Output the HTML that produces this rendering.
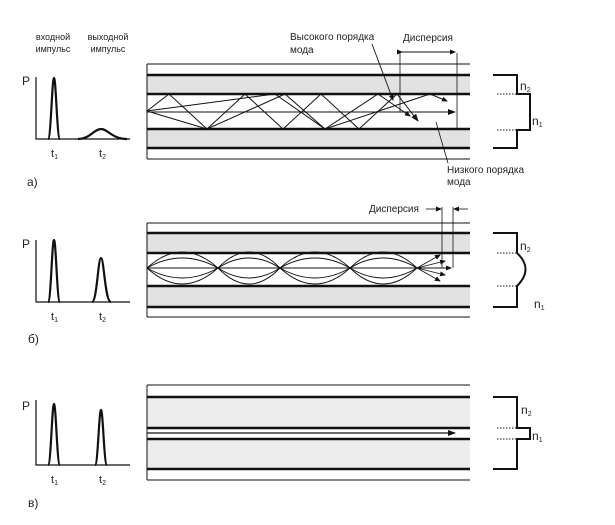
<!DOCTYPE html>
<html><head><meta charset="utf-8"><style>
html,body{margin:0;padding:0;background:#fff}
svg{display:block}
text{font-family:"Liberation Sans","DejaVu Sans",sans-serif;fill:#222}
</style></head><body>
<svg width="615" height="525" viewBox="0 0 615 525" xmlns="http://www.w3.org/2000/svg">
<defs>
<marker id="ar" markerWidth="8" markerHeight="6" refX="7" refY="3" orient="auto" markerUnits="userSpaceOnUse"><path d="M0,0 L8,3 L0,6 Z" fill="#111"/></marker>
<marker id="ars" markerWidth="6" markerHeight="5" refX="5" refY="2.5" orient="auto" markerUnits="userSpaceOnUse"><path d="M0,0 L6,2.5 L0,5 Z" fill="#111"/></marker>
</defs>
<g stroke="#111" fill="none">
<!-- ===== Panel a ===== -->
<text x="53" y="40" font-size="9" text-anchor="middle" stroke="none">входной</text>
<text x="53" y="52" font-size="9" text-anchor="middle" stroke="none">импульс</text>
<text x="108" y="40" font-size="9" text-anchor="middle" stroke="none">выходной</text>
<text x="108" y="52" font-size="9" text-anchor="middle" stroke="none">импульс</text>
<text x="22" y="85" font-size="12" stroke="none">P</text>
<path d="M36,77 V139 H130" stroke-width="1.2"/>
<path d="M48,139 C51,139 52,78 54,78 C56,78 57,139 60,139" stroke-width="2.2"/>
<path d="M78,139 C90,139 94,129 101,129 C108,129 112,139 127,139" stroke-width="2.2"/>
<text x="51" y="157" font-size="11" stroke="none">t<tspan font-size="7" dy="2">1</tspan></text>
<text x="99" y="157" font-size="11" stroke="none">t<tspan font-size="7" dy="2">2</tspan></text>
<text x="27" y="186" font-size="12" stroke="none">a)</text>

<rect x="147" y="75" width="323" height="19" fill="#e2e2e2" stroke="none"/>
<rect x="147" y="129" width="323" height="19" fill="#e2e2e2" stroke="none"/>
<path d="M147,64 H470 M147,159 H470" stroke-width="1"/>
<path d="M147,64 V159" stroke-width="1"/>
<path d="M147,75 H470 M147,94 H470 M147,129 H470 M147,148 H470" stroke-width="2.4"/>
<path d="M147,112 H455" stroke-width="1" marker-end="url(#ar)"/>
<polyline points="147,111 169,94 207,129 245,94 283,129 321,94 359,129 397,94 418,121" stroke-width="1" marker-end="url(#ar)"/>
<polyline points="147,111 275,94 325,129 378,94 410,116" stroke-width="1" marker-end="url(#ars)"/>
<polyline points="147,111 207,129 285,94 325,129 430,94 447,101" stroke-width="1" marker-end="url(#ars)"/>
<text x="290" y="40" font-size="10" stroke="none">Высокого порядка</text>
<text x="290" y="53" font-size="10" stroke="none">мода</text>
<path d="M372,44 L393,100" stroke-width="0.9" marker-end="url(#ars)"/>
<text x="403" y="41" font-size="10" stroke="none">Дисперсия</text>
<path d="M400,53 V112 M457,53 V128" stroke-width="0.8"/>
<path d="M402,52 H455" stroke-width="0.9" marker-end="url(#ars)" marker-start="url(#ars)"/>
<text x="447" y="173" font-size="10" stroke="none">Низкого порядка</text>
<text x="447" y="185" font-size="10" stroke="none">мода</text>
<path d="M448,163 L436,122" stroke-width="0.8"/>
<path d="M493,75 H517 V94 H530 V130 H517 V148 H493" stroke-width="2"/>
<path d="M497,94 H517 M497,130 H517" stroke-width="1" stroke-dasharray="1.5,1.5"/>
<text x="520" y="90" font-size="12" stroke="none">n<tspan font-size="7" dy="2">2</tspan></text>
<text x="532" y="125" font-size="12" stroke="none">n<tspan font-size="7" dy="2">1</tspan></text>

<!-- ===== Panel b ===== -->
<text x="22" y="248" font-size="12" stroke="none">P</text>
<path d="M36,240 V302 H130" stroke-width="1.2"/>
<path d="M48,302 C51,302 52,240 54,240 C56,240 57,302 60,302" stroke-width="2.2"/>
<path d="M92,302 C97,302 98,258 101,258 C104,258 105,302 111,302" stroke-width="2.2"/>
<text x="51" y="320" font-size="11" stroke="none">t<tspan font-size="7" dy="2">1</tspan></text>
<text x="99" y="320" font-size="11" stroke="none">t<tspan font-size="7" dy="2">2</tspan></text>
<text x="28" y="343" font-size="12" stroke="none">б)</text>

<rect x="147" y="233" width="323" height="20" fill="#e2e2e2" stroke="none"/>
<rect x="147" y="286" width="323" height="21" fill="#e2e2e2" stroke="none"/>
<path d="M147,223 H470 M147,317 H470 M147,223 V317" stroke-width="1"/>
<path d="M147,233 H470 M147,253 H470 M147,286 H470 M147,307 H470" stroke-width="2.4"/>
<g stroke-width="0.9">
<path d="M147,268 Q182,236 218,268 Q249,236 280,268 Q315,236 350,268 Q383,236 417,268"/>
<path d="M147,268 Q182,300 218,268 Q249,300 280,268 Q315,300 350,268 Q383,300 417,268"/>
<path d="M147,268 Q182,248 218,268 Q249,248 280,268 Q315,248 350,268 Q383,248 417,268"/>
<path d="M147,268 Q182,288 218,268 Q249,288 280,268 Q315,288 350,268 Q383,288 417,268"/>
<path d="M147,268 H417"/>
<path d="M417,268 L445,261" marker-end="url(#ars)"/>
<path d="M417,268 L445,275" marker-end="url(#ars)"/>
<path d="M417,268 L451,268" marker-end="url(#ars)"/>
<path d="M417,268 L440,255" marker-end="url(#ars)"/>
<path d="M417,268 L440,281" marker-end="url(#ars)"/>
</g>
<text x="369" y="212" font-size="10" stroke="none">Дисперсия</text>
<path d="M442,207 V268 M453,207 V268" stroke-width="0.8"/>
<path d="M426,209 H441" stroke-width="0.8" marker-end="url(#ars)"/>
<path d="M468,209 H454" stroke-width="0.8" marker-end="url(#ars)"/>
<path d="M493,233 H517 V253 Q534,269 517,286 V307 H493" stroke-width="2"/>
<path d="M497,253 H517 M497,286 H517" stroke-width="1" stroke-dasharray="1.5,1.5"/>
<text x="520" y="250" font-size="12" stroke="none">n<tspan font-size="7" dy="2">2</tspan></text>
<text x="534" y="308" font-size="12" stroke="none">n<tspan font-size="7" dy="2">1</tspan></text>

<!-- ===== Panel v ===== -->
<text x="22" y="410" font-size="12" stroke="none">P</text>
<path d="M36,400 V465 H130" stroke-width="1.2"/>
<path d="M48,465 C51,465 52,404 54,404 C56,404 57,465 60,465" stroke-width="2.2"/>
<path d="M95,465 C98,465 99,410 101,410 C103,410 104,465 107,465" stroke-width="2.2"/>
<text x="51" y="483" font-size="11" stroke="none">t<tspan font-size="7" dy="2">1</tspan></text>
<text x="99" y="483" font-size="11" stroke="none">t<tspan font-size="7" dy="2">2</tspan></text>
<text x="28" y="507" font-size="12" stroke="none">в)</text>

<rect x="147" y="397" width="323" height="31" fill="#ececec" stroke="none"/>
<rect x="147" y="439" width="323" height="30" fill="#ececec" stroke="none"/>
<path d="M147,385 H470 M147,480 H470 M147,385 V480" stroke-width="1"/>
<path d="M147,397 H470 M147,428 H470 M147,439 H470 M147,469 H470" stroke-width="2.4"/>
<path d="M147,433 H455" stroke-width="1.3" marker-end="url(#ar)"/>
<path d="M493,397 H517 V428 H530 V439 H517 V469 H493" stroke-width="2"/>
<path d="M497,428 H517 M497,439 H517" stroke-width="1" stroke-dasharray="1.5,1.5"/>
<text x="521" y="414" font-size="12" stroke="none">n<tspan font-size="7" dy="2">2</tspan></text>
<text x="532" y="440" font-size="12" stroke="none">n<tspan font-size="7" dy="2">1</tspan></text>
</g>
</svg>
</body></html>
